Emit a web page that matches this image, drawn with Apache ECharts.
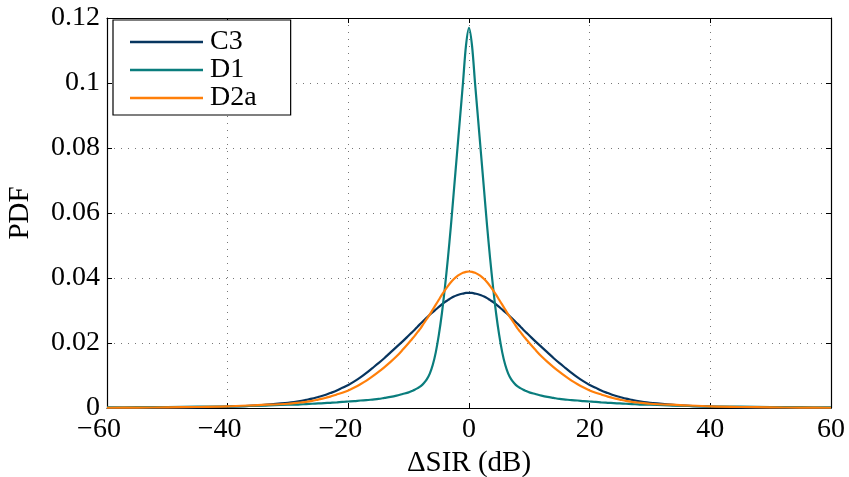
<!DOCTYPE html>
<html>
<head>
<meta charset="utf-8">
<script src="https://cdn.jsdelivr.net/npm/echarts@6/dist/echarts.min.js"></script>
<style>
  html, body { margin: 0; padding: 0; background: #fff; }
  #chart { width: 849px; height: 477px; }
</style>
</head>
<body>
<div id="chart"></div>
<script>
// ΔSIR sample points (dB)
const sirDb = [
  -60, -55, -50, -45, -40, -35,
  -30, -29, -28, -27, -26, -25, -24, -23, -22, -21, -20, -19, -18, -17, -16, -15, -14, -13, -12, -11,
  -10, -9.5, -9, -8.5, -8, -7.5, -7, -6.5, -6, -5.5, -5, -4.5, -4, -3.5, -3, -2.5, -2, -1.5, -1, -0.5,
  0,
  0.5, 1, 1.5, 2, 2.5, 3, 3.5, 4, 4.5, 5, 5.5, 6, 6.5, 7, 7.5, 8, 8.5, 9, 9.5, 10,
  11, 12, 13, 14, 15, 16, 17, 18, 19, 20, 21, 22, 23, 24, 25, 26, 27, 28, 29, 30,
  35, 40, 45, 50, 55, 60
];

// PDF values for each configuration
const pdfC3 = [
  0.00003, 0.00005, 0.0001, 0.0002, 0.0004, 0.0008,
  0.0016, 0.0018, 0.0021, 0.0025, 0.0029, 0.0034, 0.0039, 0.0046, 0.0053, 0.0062, 0.0071, 0.0082, 0.0094, 0.0108, 0.0123, 0.0138, 0.0154, 0.0171, 0.0188, 0.0205,
  0.0223, 0.0232, 0.0241, 0.0251, 0.0260, 0.0269, 0.0278, 0.0287, 0.0295, 0.0303, 0.0311, 0.0319, 0.0326, 0.0332, 0.0338, 0.0343, 0.0347, 0.0350, 0.0352, 0.0354,
  0.0354,
  0.0354, 0.0352, 0.0350, 0.0347, 0.0343, 0.0338, 0.0332, 0.0326, 0.0319, 0.0311, 0.0303, 0.0295, 0.0287, 0.0278, 0.0269, 0.0260, 0.0251, 0.0241, 0.0232, 0.0223,
  0.0205, 0.0188, 0.0171, 0.0154, 0.0138, 0.0123, 0.0108, 0.0094, 0.0082, 0.0071, 0.0062, 0.0053, 0.0046, 0.0039, 0.0034, 0.0029, 0.0025, 0.0021, 0.0018, 0.0016,
  0.0008, 0.0004, 0.0002, 0.0001, 0.00005, 0.00003
];

const pdfD1 = [
  0.0002, 0.00025, 0.0003, 0.0004, 0.0005, 0.0007,
  0.0010, 0.0010, 0.0011, 0.0012, 0.0013, 0.0014, 0.0015, 0.0016, 0.0017, 0.0019, 0.0020, 0.0021, 0.0023, 0.0024, 0.0026, 0.0028, 0.0031, 0.0034, 0.0038, 0.0043,
  0.0048, 0.0052, 0.0056, 0.0061, 0.0067, 0.0076, 0.0088, 0.0106, 0.0133, 0.0172, 0.0225, 0.0290, 0.0370, 0.0460, 0.0560, 0.0670, 0.0780, 0.0890, 0.1000, 0.1115,
  0.1170,
  0.1115, 0.1000, 0.0890, 0.0780, 0.0670, 0.0560, 0.0460, 0.0370, 0.0290, 0.0225, 0.0172, 0.0133, 0.0106, 0.0088, 0.0076, 0.0067, 0.0061, 0.0056, 0.0052, 0.0048,
  0.0043, 0.0038, 0.0034, 0.0031, 0.0028, 0.0026, 0.0024, 0.0023, 0.0021, 0.0020, 0.0019, 0.0017, 0.0016, 0.0015, 0.0014, 0.0013, 0.0012, 0.0011, 0.0010, 0.0010,
  0.0007, 0.0005, 0.0004, 0.0003, 0.00025, 0.0002
];

const pdfD2a = [
  0.00008, 0.00012, 0.0002, 0.0003, 0.0005, 0.0009,
  0.0013, 0.0015, 0.0017, 0.0019, 0.0022, 0.0026, 0.0030, 0.0035, 0.0041, 0.0047, 0.0054, 0.0063, 0.0073, 0.0084, 0.0097, 0.0111, 0.0126, 0.0142, 0.0159, 0.0179,
  0.0200, 0.0211, 0.0222, 0.0234, 0.0246, 0.0260, 0.0274, 0.0288, 0.0303, 0.0318, 0.0333, 0.0348, 0.0362, 0.0375, 0.0387, 0.0397, 0.0405, 0.0411, 0.0416, 0.0419,
  0.0420,
  0.0419, 0.0416, 0.0411, 0.0405, 0.0397, 0.0387, 0.0375, 0.0362, 0.0348, 0.0333, 0.0318, 0.0303, 0.0288, 0.0274, 0.0260, 0.0246, 0.0234, 0.0222, 0.0211, 0.0200,
  0.0179, 0.0159, 0.0142, 0.0126, 0.0111, 0.0097, 0.0084, 0.0073, 0.0063, 0.0054, 0.0047, 0.0041, 0.0035, 0.0030, 0.0026, 0.0022, 0.0019, 0.0017, 0.0015, 0.0013,
  0.0009, 0.0005, 0.0003, 0.0002, 0.00012, 0.00008
];

const seriesNames = ['C3', 'D1', 'D2a'];
const seriesColors = ['#07355f', '#0a7d7d', '#ff7f0a'];
const seriesValues = [pdfC3, pdfD1, pdfD2a];

const xTicks = { min: -60, max: 60, interval: 20 };
const yTicks = { min: 0, max: 0.12, interval: 0.02 };

const FONT = 'Liberation Serif';
const FS = 28;

function pairs(ys) {
  return sirDb.map((x, i) => [x, ys[i]]);
}

const chart = echarts.init(document.getElementById('chart'), null, { renderer: 'canvas' });

const axisLineStyle = { show: true, onZero: false, lineStyle: { color: '#000', width: 1.2 } };
const tickInside = { show: true, inside: true, length: 5, lineStyle: { color: '#000', width: 1 } };
const dotted = { show: true, lineStyle: { color: '#777', width: 1, type: [1, 6] } };

chart.setOption({
  animation: false,
  backgroundColor: '#fff',
  grid: { left: 107, right: 18, top: 18, bottom: 69, containLabel: false, outerBoundsMode: 'none' },
  legend: {
    data: seriesNames,
    orient: 'vertical',
    left: 113,
    top: 20,
    padding: [8, 34, 3, 17],
    itemGap: 0,
    itemWidth: 73,
    itemHeight: 2.4,
    icon: 'rect',
    backgroundColor: '#fff',
    borderColor: '#000',
    borderWidth: 1.2,
    borderRadius: 0,
    textStyle: { fontFamily: FONT, fontSize: FS, color: '#000', lineHeight: 27.5, padding: [0, 0, 0, 2] }
  },
  xAxis: [
    {
      type: 'value',
      min: xTicks.min, max: xTicks.max, interval: xTicks.interval,
      position: 'bottom',
      name: 'ΔSIR (dB)',
      nameLocation: 'middle',
      nameGap: 38,
      nameTextStyle: { fontFamily: FONT, fontSize: FS + 1, color: '#000' },
      axisLine: axisLineStyle,
      axisTick: tickInside,
      splitLine: dotted,
      axisLabel: {
        margin: 8,
        fontFamily: FONT, fontSize: FS, color: '#000',
        formatter: v => v < 0 ? '{neg|−' + Math.abs(v) + '}' : String(v),
        rich: { neg: { fontFamily: FONT, fontSize: FS, color: '#000', padding: [0, 16, 0, 0] } }
      }
    },
    {
      type: 'value',
      min: xTicks.min, max: xTicks.max, interval: xTicks.interval,
      position: 'top',
      axisLine: axisLineStyle,
      axisTick: tickInside,
      axisLabel: { show: false },
      splitLine: { show: false }
    }
  ],
  yAxis: [
    {
      type: 'value',
      min: yTicks.min, max: yTicks.max, interval: yTicks.interval,
      position: 'left',
      name: 'PDF',
      nameLocation: 'middle',
      nameGap: 72,
      nameRotate: 90,
      nameTextStyle: { fontFamily: FONT, fontSize: FS + 1, color: '#000' },
      axisLine: axisLineStyle,
      axisTick: tickInside,
      splitLine: dotted,
      axisLabel: {
        margin: 7,
        fontFamily: FONT, fontSize: FS, color: '#000',
        formatter: v => String(+v.toFixed(2))
      }
    },
    {
      type: 'value',
      min: yTicks.min, max: yTicks.max, interval: yTicks.interval,
      position: 'right',
      axisLine: axisLineStyle,
      axisTick: tickInside,
      axisLabel: { show: false },
      splitLine: { show: false }
    }
  ],
  series: seriesNames.map((name, i) => ({
    name,
    type: 'line',
    xAxisIndex: 0,
    yAxisIndex: 0,
    data: pairs(seriesValues[i]),
    showSymbol: false,
    symbol: 'none',
    smooth: 0.3,
    color: seriesColors[i],
    lineStyle: { color: seriesColors[i], width: 2.2 },
    z: 2 + i
  }))
});
</script>
</body>
</html>
